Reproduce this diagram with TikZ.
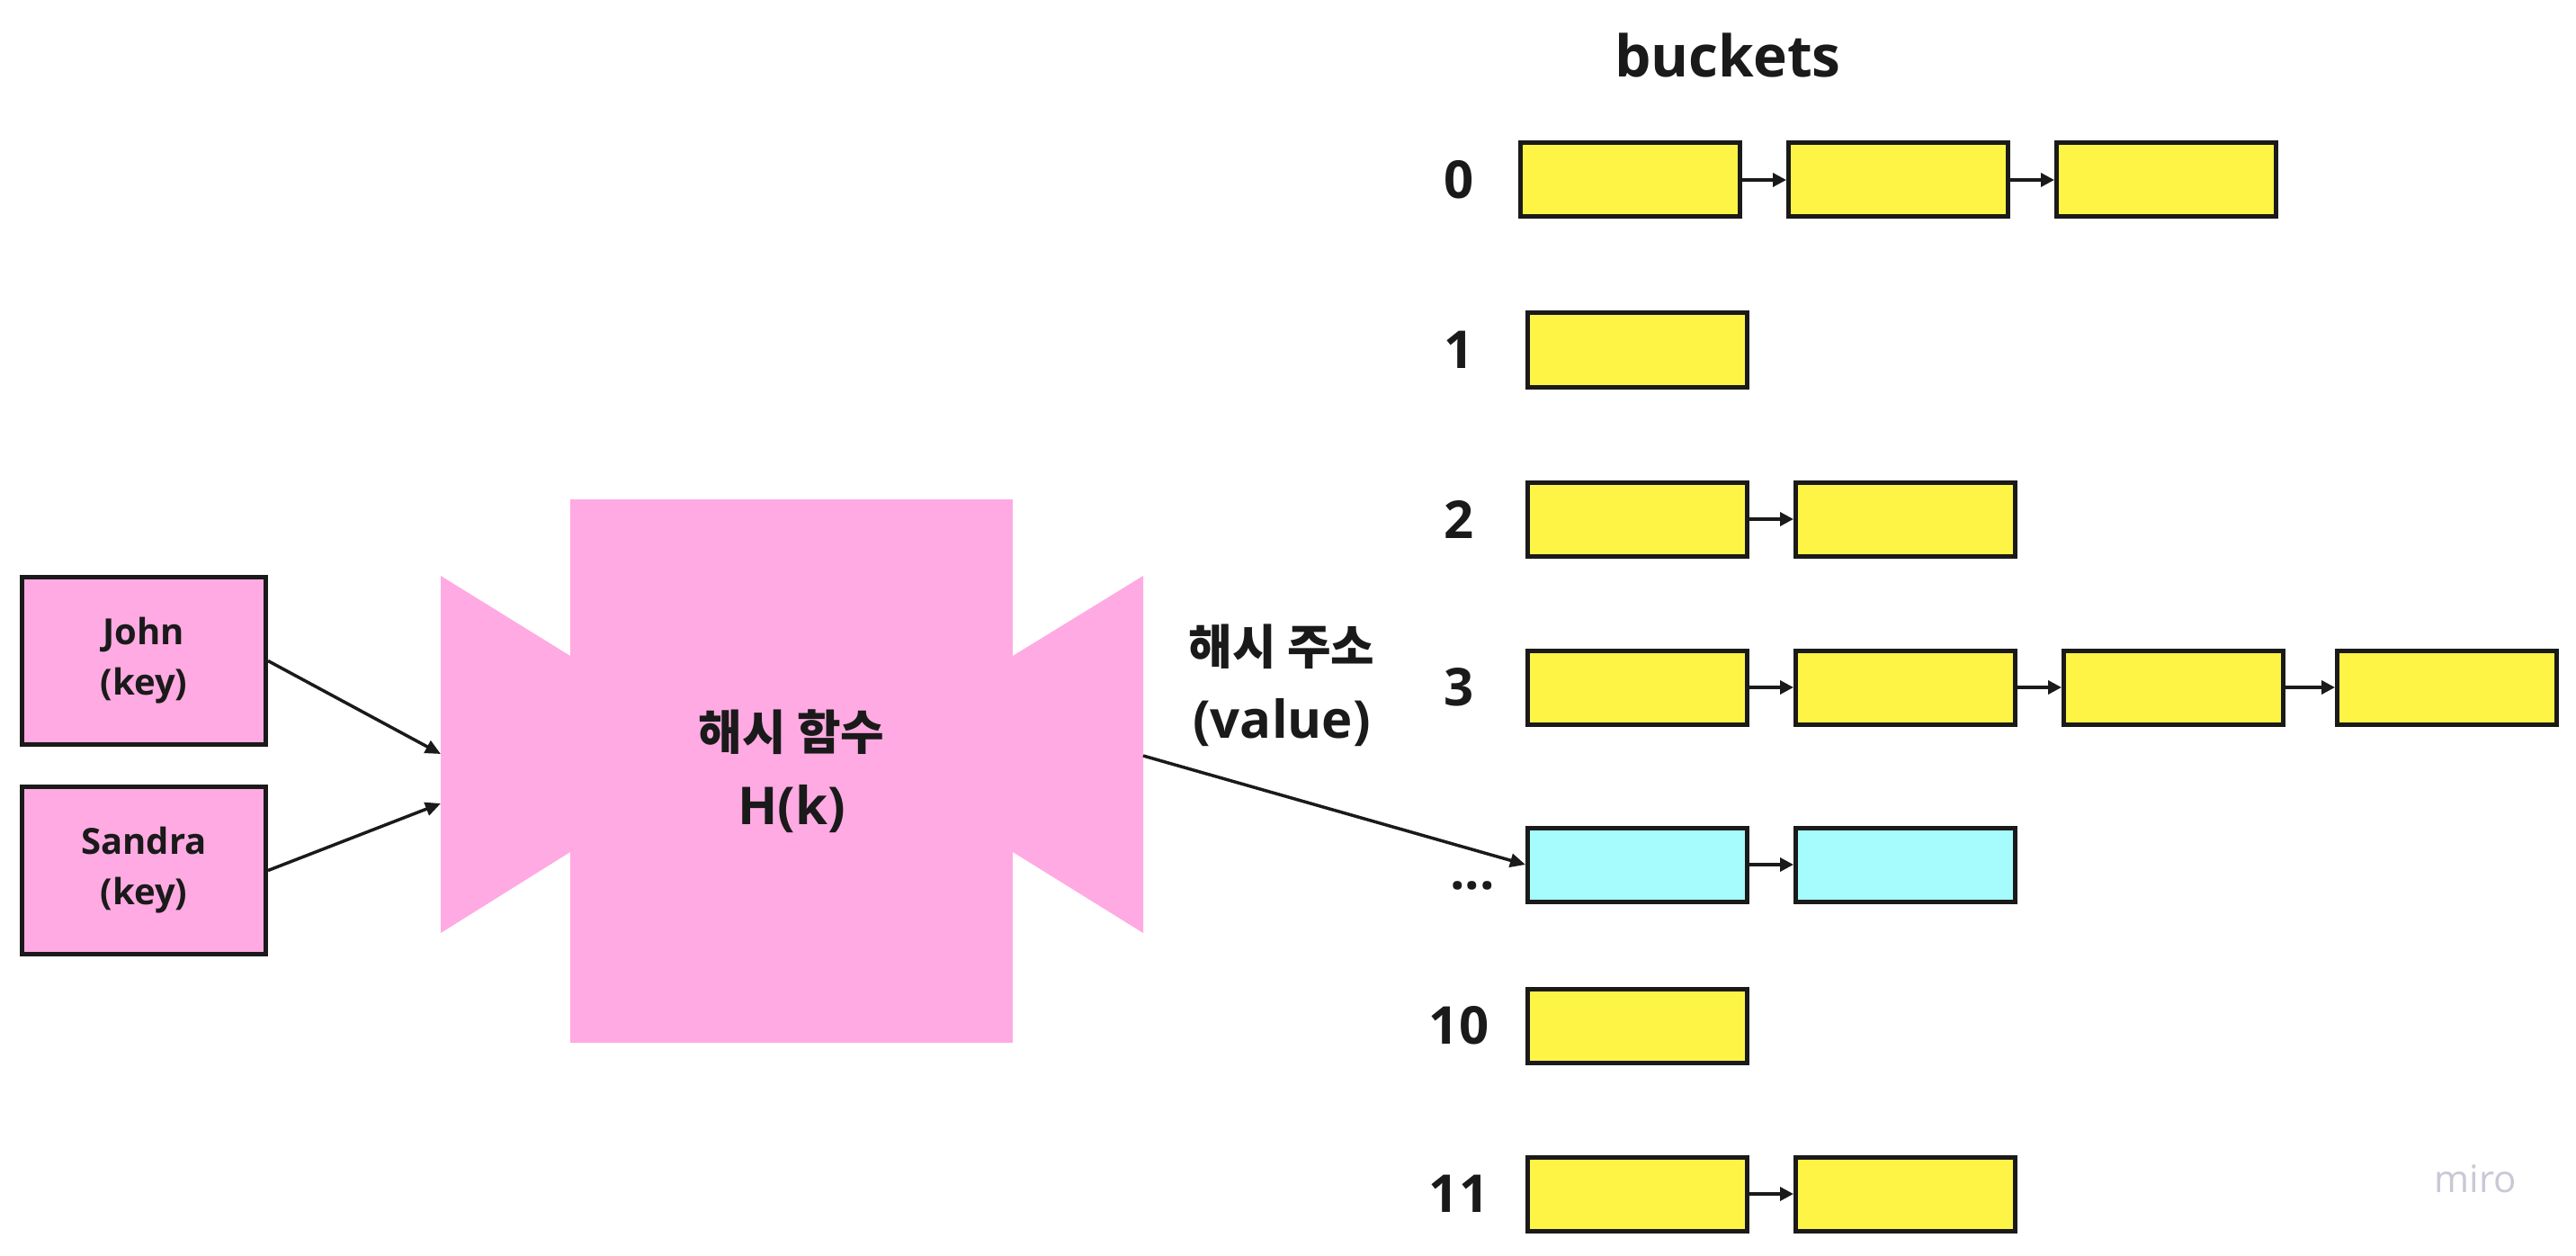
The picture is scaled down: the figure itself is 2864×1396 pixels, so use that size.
\documentclass[tikz,border=0pt]{standalone}
\usepackage{fontspec}
\setmainfont{Open Sans}
\newfontfamily\krfont[Scale=0.91]{Noto Sans CJK KR}
\usetikzlibrary{arrows.meta,positioning}
\definecolor{keypink}{RGB}{255,170,226}
\definecolor{slotyellow}{RGB}{254,244,69}
\definecolor{slotcyan}{RGB}{166,251,252}
\definecolor{inkdark}{RGB}{26,26,26}
\definecolor{mirogray}{RGB}{200,200,214}

\begin{document}
\begin{tikzpicture}[x=1pt,y=-1pt,
 node distance=49pt,
 bucket/.style={draw=inkdark,line width=5pt,fill=slotyellow,
                minimum width=244pt,minimum height=82pt,inner sep=0pt},
 hit/.style={bucket,fill=slotcyan},
 keybox/.style={draw=inkdark,line width=5pt,fill=keypink,align=center,
                minimum width=271pt,minimum height=186pt,inner sep=0pt,
                text=inkdark,font=\bfseries\fontsize{40}{56}\selectfont},
 hashbody/.style={fill=keypink,minimum width=492pt,minimum height=604pt,
                align=center,text=inkdark,font=\bfseries\fontsize{58}{83}\selectfont},
 idx/.style={inner sep=0pt,text=inkdark,align=center,
                font=\bfseries\fontsize{58}{82}\selectfont},
 arrow/.style={-{Triangle[length=17pt,width=15pt]},line width=3.5pt,draw=inkdark},
 link/.style={-{Triangle[length=15pt,width=15pt]},line width=3.5pt,draw=inkdark}]
 \useasboundingbox (0,0) rectangle (2864,1396);
 % keys
 \node[keybox] (john) at (160,734.5) {John\\(key)};
 \node[keybox] (sandra) at (160,967.5) {Sandra\\(key)};
 % hash function
 \fill[keypink] (634,729) -- (490,640) -- (490,1037) -- (634,947) -- cycle;
 \fill[keypink] (1126,729) -- (1271,640) -- (1271,1037) -- (1126,947) -- cycle;
 \node[hashbody] (hash) at (880,857) {{\krfont 해시 함수}\\H(k)};
 \coordinate (inJohn) at (490,838);
 \coordinate (inSandra) at (490,893);
 \coordinate (outAddr) at (1271,840);
 \node[idx] (addr) at (1425,762) {{\krfont 해시 주소}\\(value)};
 % buckets
 \node[anchor=base,text=inkdark,font=\bfseries\fontsize{64}{77}\selectfont] (title) at (1921,86) {buckets};
 \node[idx] (i0) at (1622,200) {0};
 \node[idx] (i1) at (1622,389) {1};
 \node[idx] (i2) at (1622,577) {2};
 \node[idx] (i3) at (1622,764) {3};
 \node[idx,anchor=base] (ix) at (1637,988) {...};
 \node[idx] (i10) at (1622,1140) {10};
 \node[idx] (i11) at (1622,1327) {11};
 \node[bucket] (b0a) at (1812.5,200) {};
 \node[bucket,right=of b0a] (b0b) {};
 \node[bucket,right=of b0b] (b0c) {};
 \node[bucket] (b1a) at (1820.5,389) {};
 \node[bucket] (b2a) at (1820.5,577) {};
 \node[bucket,right=of b2a] (b2b) {};
 \node[bucket] (b3a) at (1820.5,764) {};
 \node[bucket,right=of b3a] (b3b) {};
 \node[bucket,right=of b3b] (b3c) {};
 \node[bucket,right=55pt of b3c] (b3d) {};
 \node[hit] (bxa) at (1820.5,961) {};
 \node[hit,right=of bxa] (bxb) {};
 \node[bucket] (b10a) at (1820.5,1140) {};
 \node[bucket] (b11a) at (1820.5,1327) {};
 \node[bucket,right=of b11a] (b11b) {};
 \node[anchor=base,text=mirogray,font=\fontsize{42}{50}\selectfont] (wm) at (2752,1325) {miro};
 % connectors
 \draw[arrow] (john.east) -- (inJohn);
 \draw[arrow] (sandra.east) -- (inSandra);
 \draw[arrow] (outAddr) -- (bxa.west);
 \draw[link] (b0a) -- (b0b);
 \draw[link] (b0b) -- (b0c);
 \draw[link] (b2a) -- (b2b);
 \draw[link] (b3a) -- (b3b);
 \draw[link] (b3b) -- (b3c);
 \draw[link] (b3c) -- (b3d);
 \draw[link] (bxa) -- (bxb);
 \draw[link] (b11a) -- (b11b);
\end{tikzpicture}
\end{document}
